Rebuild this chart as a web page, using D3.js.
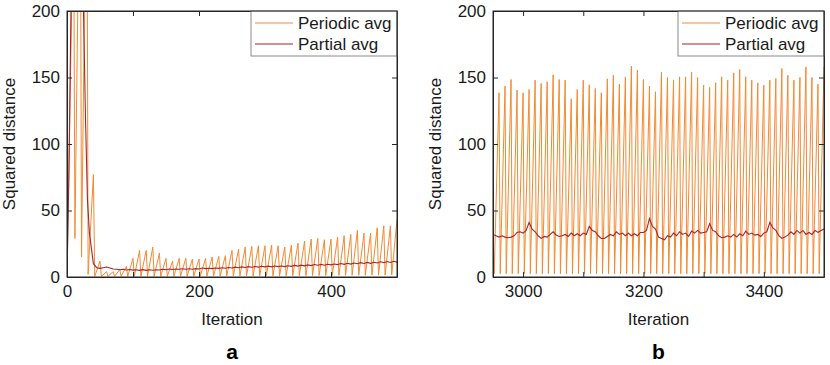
<!DOCTYPE html>
<html>
<head>
<meta charset="utf-8">
<script src="https://cdn.jsdelivr.net/npm/d3@7"></script>
<style>
  body { margin: 0; background: #fff; }
  svg { display: block; font-family: "Liberation Sans", Arial, Helvetica, sans-serif; }
</style>
</head>
<body>
<svg id="chart" width="830" height="365"></svg>
<script>
// ---------------- DATA ----------------
const seriesNames = ["Periodic avg", "Partial avg"];
const yTicks = [0, 50, 100, 150, 200];

// Panel a: iterations 0..500
const aXTicks = [0, 100, 200, 300, 400, 500];
const aXLabels = [0, 200, 400];
const aPeriod = 10;
// periodic avg: value 0 at iteration 0, peaks at 10,20,...,500
const aPeriodicStart = 0;
const aPeriodicPeaks = [285, 350, 350, 77, 12, 4, 4, 5.5, 8, 14,
  20, 20, 22.5, 18, 14, 12, 14, 14, 13.5, 13.5,
  14, 15, 15.5, 16, 20, 21, 22.5, 23, 23.5, 23.5,
  24, 23.5, 22.5, 24, 25.5, 27, 28.5, 29, 28, 28.5,
  30, 31, 32, 35, 33, 33, 37, 38.5, 38.5, 43];
// troughs two iterations after each peak (12,22,...,492)
const aPeriodicTroughs = [29, 15, 2, 0.5, 0.5, 0.5, 0.5, 0.5, 0.5, 0.5,
  0.5, 0.5, 0.5, 0.5, 0.5, 0.6, 0.6, 0.6, 0.6, 0.6,
  0.7, 0.7, 0.7, 0.7, 0.8, 0.8, 0.8, 0.8, 0.9, 0.9,
  0.9, 0.9, 1, 1, 1, 1, 1.1, 1.1, 1.1, 1.2,
  1.2, 1.2, 1.3, 1.3, 1.3, 1.4, 1.4, 1.5, 1.5];
// partial avg, early steep part (iteration, value)
const aPartialEarlyIter = [0, 3, 6, 8, 15, 22, 25, 28, 31, 34, 40];
const aPartialEarlyVal  = [0, 80, 200, 240, 255, 235, 200, 120, 58, 33, 10];
// partial avg every 5 iterations from 45 to 500
const aPartialStartIter = 45;
const aPartialStep = 5;
const aPartialVals = [7, 6.5, 7, 7.5, 6.8, 6, 5.8, 5.5, 5.8, 5.3,
  5.6, 5.2, 5.5, 5, 5.5, 5, 5.4, 5.1, 5.5, 5.3,
  5.8, 5.5, 6, 5.6, 6, 5.8, 6.2, 5.8, 6.2, 5.8,
  6.3, 6, 6.8, 6.3, 6.6, 6.3, 6.8, 6.5, 7, 6.6,
  7.1, 6.8, 7.4, 7, 7.6, 7.2, 7.8, 7.3, 7.9, 7.4,
  8.1, 7.6, 8.2, 7.6, 8.3, 7.8, 8.3, 7.8, 8.5, 8,
  8.7, 8.2, 8.9, 8.4, 9.1, 8.6, 9.4, 8.8, 9.5, 8.9,
  9.6, 9.1, 9.8, 9.3, 10.1, 9.5, 10.3, 9.7, 10.5, 10,
  10.8, 10.2, 11, 10.3, 11.1, 10.5, 11.4, 10.7, 11.6, 10.9,
  11.8, 11.2];

// Panel b: iterations 2950..3500
const bXTicks = [3000, 3100, 3200, 3300, 3400, 3500];
const bXLabels = [3000, 3200, 3400];
const bPeriod = 10;
const bPeriodicStart = 45;   // value at 2950
const bPeaksFirstIter = 2960;
const bPeriodicPeaks = [138.5, 143.5, 148.5, 140.5, 138.5, 141, 148, 145.5, 146.75, 152,
  148.5, 148, 134, 141, 148, 144.5, 141.75, 138.5, 149, 151.75,
  145, 150.5, 158.5, 155.5, 148.5, 143.5, 139.25, 154, 150, 148,
  150.5, 150.5, 154, 150, 144.25, 142.5, 146, 150.5, 148, 153.5,
  156, 150.5, 148, 146, 144.25, 148, 149.25, 156.75, 151.75, 148,
  150, 158, 150, 145, 158];
const bTrough = 2.5;
// partial avg every 5 iterations from 2950 to 3500
const bPartialStartIter = 2950;
const bPartialStep = 5;
const bPartialVals = [32, 31, 30, 31, 30, 29.5, 30, 31, 33.5, 34,
  33, 35, 41, 36, 34, 31, 29, 30.5, 30, 32,
  34, 31.5, 30.5, 31, 32, 30.5, 33, 31, 32.5, 31,
  33, 32, 38, 35, 34, 31, 29, 29, 30.5, 32,
  31, 34, 32, 33, 31, 33, 31, 32.5, 31, 33.5,
  33.5, 35, 44, 38, 36, 30, 29, 28, 31, 30,
  33, 31, 34, 32, 33, 30.5, 34.5, 33, 35, 33,
  33.5, 34, 40, 35, 34, 31, 29.5, 30, 31, 30,
  32, 30, 32.5, 31, 34.5, 32, 33, 31.5, 32, 30.5,
  33, 34, 41, 37, 35, 31, 29, 30, 31.5, 34,
  32, 35, 33, 35, 32, 33.5, 32, 35, 33.5, 35,
  36];

// ---------------- BUILD POINT LISTS ----------------
function sawtooth(startIter, startVal, firstPeakIter, peaks, troughs, period) {
  const pts = [[startIter, startVal]];
  peaks.forEach((p, i) => {
    const it = firstPeakIter + i * period;
    pts.push([it, p]);
    const tr = Array.isArray(troughs) ? troughs[i] : troughs;
    if (tr !== undefined) pts.push([it + 2, tr]);
  });
  return pts;
}
const aPeriodicPts = sawtooth(0, aPeriodicStart, aPeriod, aPeriodicPeaks, aPeriodicTroughs, aPeriod);
const aPartialPts = aPartialEarlyIter.map((it, i) => [it, aPartialEarlyVal[i]])
  .concat(aPartialVals.map((v, i) => [aPartialStartIter + i * aPartialStep, v]));

const bPeriodicPts = [[2950, bPeriodicStart], [2952, bTrough]];
bPeriodicPeaks.forEach((p, i) => {
  const it = bPeaksFirstIter + i * bPeriod;
  bPeriodicPts.push([it, p]);
  if (it + 2 <= 3500) bPeriodicPts.push([it + 2, bTrough]);
});
const bPartialPts = bPartialVals.map((v, i) => [bPartialStartIter + i * bPartialStep, v]);

// ---------------- DRAW ----------------
const svg = d3.select("#chart");
const colPeriodic = "#F28A33";
const colPartial = "#A3262C";
const axisCol = "#262626";
const plotTop = 11, plotBottom = 277;

function panel(opts) {
  const x = d3.scaleLinear().domain(opts.xDomain).range([opts.x0, opts.x1]);
  const y = d3.scaleLinear().domain([0, 200]).range([plotBottom, plotTop]);
  const g = svg.append("g");
  const clipId = "clip" + opts.id;
  svg.append("clipPath").attr("id", clipId).append("rect")
    .attr("x", opts.x0).attr("y", plotTop).attr("width", opts.x1 - opts.x0).attr("height", plotBottom - plotTop);

  const line = d3.line().x(d => x(d[0])).y(d => y(d[1]));
  const lg = g.append("g").attr("clip-path", `url(#${clipId})`);
  lg.append("path").datum(opts.periodic).attr("d", line)
    .attr("fill", "none").attr("stroke", colPeriodic).attr("stroke-width", 1);
  lg.append("path").datum(opts.partial).attr("d", line)
    .attr("fill", "none").attr("stroke", colPartial).attr("stroke-width", 1.1);

  const fmtX = d => opts.xLabels.includes(d) ? String(d) : "";
  const styleAxis = sel => {
    sel.selectAll("path.domain").attr("stroke", axisCol).attr("stroke-width", 1);
    sel.selectAll(".tick line").attr("stroke", axisCol);
    sel.selectAll("text").attr("fill", "#1a1a1a").style("font-size", "17px")
      .style("font-family", '"Liberation Sans", Arial, sans-serif');
  };
  g.append("g").attr("transform", `translate(0,${plotBottom})`)
    .call(d3.axisBottom(x).tickValues(opts.xTicks).tickFormat(fmtX).tickSizeInner(-5).tickSizeOuter(0).tickPadding(8))
    .call(styleAxis);
  g.append("g").attr("transform", `translate(0,${plotTop})`)
    .call(d3.axisTop(x).tickValues(opts.xTicks).tickFormat("").tickSizeInner(-5).tickSizeOuter(0))
    .call(styleAxis);
  g.append("g").attr("transform", `translate(${opts.x0},0)`)
    .call(d3.axisLeft(y).tickValues(yTicks).tickFormat(d3.format("d")).tickSizeInner(-5).tickSizeOuter(0).tickPadding(7))
    .call(styleAxis);
  g.append("g").attr("transform", `translate(${opts.x1},0)`)
    .call(d3.axisRight(y).tickValues(yTicks).tickFormat("").tickSizeInner(-5).tickSizeOuter(0))
    .call(styleAxis);
  g.selectAll(".domain").attr("fill", "none");

  // axis titles
  g.append("text").attr("x", (opts.x0 + opts.x1) / 2).attr("y", 325)
    .attr("text-anchor", "middle").style("font-size", "17px").attr("fill", "#1a1a1a")
    .text("Iteration");
  g.append("text").attr("transform", `translate(${opts.yTitleX},${(plotTop + plotBottom) / 2}) rotate(-90)`)
    .attr("text-anchor", "middle").style("font-size", "17px").attr("fill", "#1a1a1a")
    .text("Squared distance");
  g.append("text").attr("x", (opts.x0 + opts.x1) / 2).attr("y", 359)
    .attr("text-anchor", "middle").style("font-size", "21px").style("font-weight", "bold")
    .attr("fill", "#000").text(opts.letter);

  // legend
  const lw = 146, lh = 45;
  const lx = opts.x1 - lw;
  const leg = g.append("g");
  leg.append("rect").attr("x", lx).attr("y", plotTop).attr("width", lw).attr("height", lh)
    .attr("fill", "#fff").attr("stroke", "#8a8a8a").attr("stroke-width", 1);
  const cols = [colPeriodic, colPartial];
  seriesNames.forEach((name, i) => {
    const yy = plotTop + 12 + i * 21;
    leg.append("line").attr("x1", lx + 4).attr("x2", lx + 42).attr("y1", yy).attr("y2", yy)
      .attr("stroke", cols[i]).attr("stroke-width", 1.2);
    leg.append("text").attr("x", lx + 47).attr("y", yy).attr("dy", "0.35em")
      .style("font-size", "17px").attr("fill", "#1a1a1a").text(name);
  });
  // redraw box edges over legend
  g.append("rect").attr("x", opts.x0).attr("y", plotTop).attr("width", opts.x1 - opts.x0)
    .attr("height", plotBottom - plotTop).attr("fill", "none").attr("stroke", axisCol).attr("stroke-width", 1);
}

panel({ id: "a", xDomain: [0, 500], x0: 67, x1: 397, xTicks: aXTicks, xLabels: aXLabels,
  periodic: aPeriodicPts, partial: aPartialPts, yTitleX: 15, letter: "a" });
panel({ id: "b", xDomain: [2950, 3500], x0: 493, x1: 824, xTicks: bXTicks, xLabels: bXLabels,
  periodic: bPeriodicPts, partial: bPartialPts, yTitleX: 441, letter: "b" });
</script>
</body>
</html>
